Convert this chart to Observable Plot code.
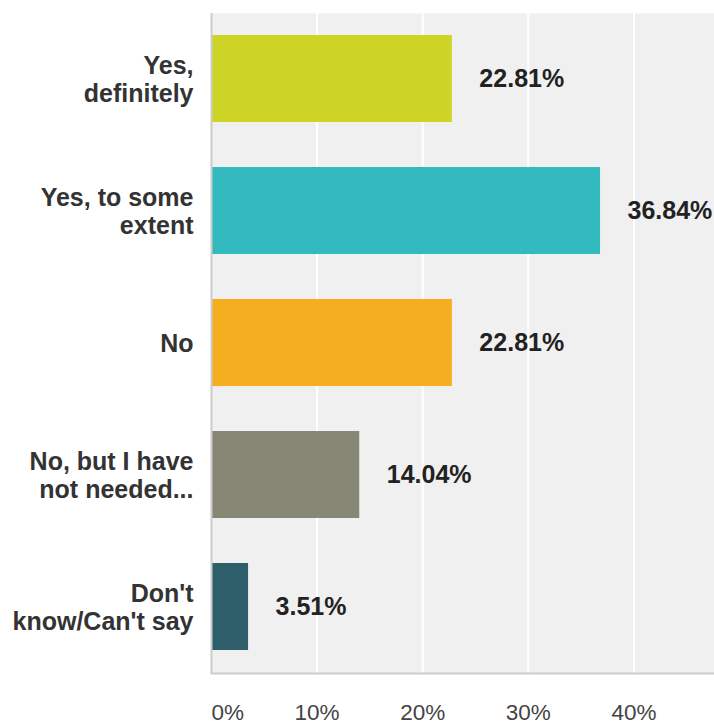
<!DOCTYPE html>
<html>
<head>
<meta charset="utf-8">
<script src="https://cdn.jsdelivr.net/npm/d3@7"></script>
<script src="https://cdn.jsdelivr.net/npm/@observablehq/plot@0.6"></script>
<style>
  html, body { margin: 0; padding: 0; background: #fff; overflow: hidden; }
  #chart svg { overflow: hidden; display: block; }
</style>
</head>
<body>
<div id="chart"></div>
<script>
const categories = ["Yes, definitely", "Yes, to some extent", "No", "No, but I have not needed...", "Don't know/Can't say"];
const displayLabels = ["Yes,\ndefinitely", "Yes, to some\nextent", "No", "No, but I have\nnot needed...", "Don't\nknow/Can't say"];
const values = [22.81, 36.84, 22.81, 14.04, 3.51];
const colors = ["#cdd426", "#33babe", "#f5ae20", "#878776", "#2e5e6a"];
const tickValues = [0, 10, 20, 30, 40, 50];

const data = categories.map((c, i) => ({category: c, label: displayLabels[i], value: values[i], color: colors[i]}));

const chart = Plot.plot({
  width: 714,
  height: 724,
  marginLeft: 211,
  marginRight: -25,
  marginTop: 13,
  marginBottom: 51,
  style: {fontFamily: "'Liberation Sans', Arial, sans-serif", background: "#fff"},
  x: {domain: [0, 50], axis: null, label: null},
  y: {domain: categories, paddingInner: 0.34, paddingOuter: 0.17, axis: null, label: null},
  marks: [
    Plot.frame({fill: "#f0f0f0", stroke: null}),
    Plot.ruleX(tickValues.slice(1), {stroke: "#ffffff", strokeWidth: 2}),
    Plot.barX(data, {y: "category", x: "value", fill: "color"}),
    Plot.ruleX([0], {stroke: "#cccccc", strokeWidth: 2}),
    Plot.frame({anchor: "bottom", stroke: "#cccccc", strokeWidth: 2}),
    Plot.text(data, {y: "category", x: "value", text: d => d.value.toFixed(2) + "%", textAnchor: "start", dx: 27, fontSize: 25, fontWeight: "bold", fill: "#222"}),
    Plot.text(data, {y: "category", x: 0, text: "label", textAnchor: "end", dx: -18, fontSize: 25, fontWeight: "bold", fill: "#333", lineHeight: 1.1}),
    Plot.axisX([0], {tickSize: 0, tickPadding: 31, fontSize: 22.5, textAnchor: "start", color: "#444", label: null, tickFormat: d => d + "%"}),
    Plot.axisX(tickValues.slice(1), {tickSize: 0, tickPadding: 31, fontSize: 22.5, color: "#444", label: null, tickFormat: d => d + "%"})
  ]
});
document.getElementById("chart").appendChild(chart);
</script>
</body>
</html>
